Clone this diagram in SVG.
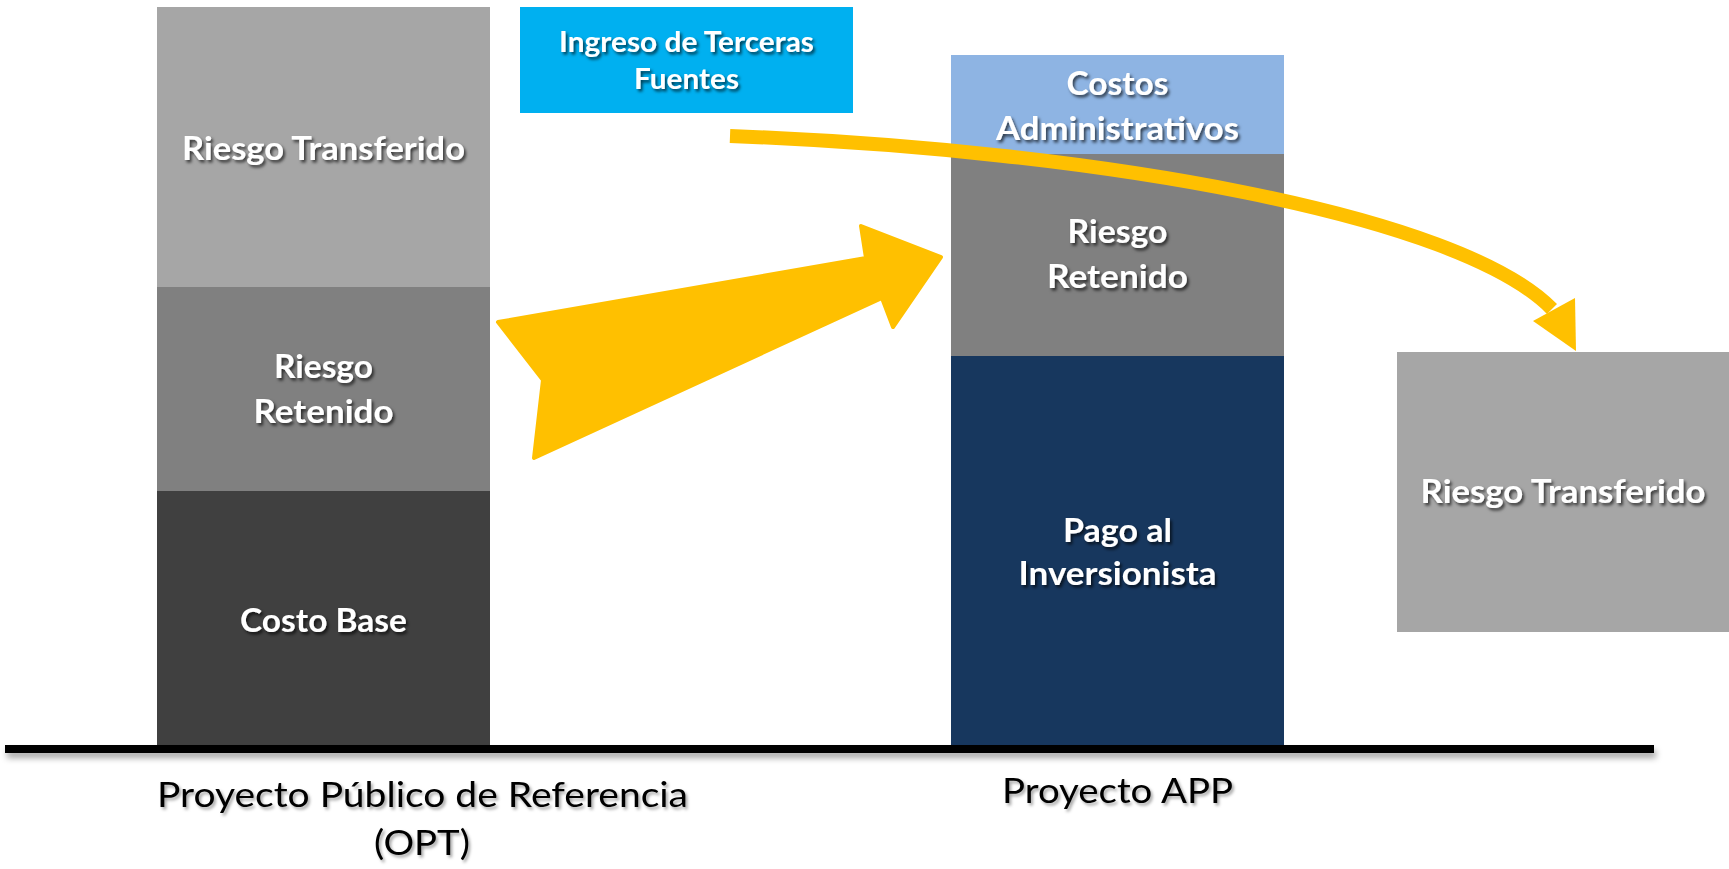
<svg xmlns="http://www.w3.org/2000/svg" width="1729" height="869" viewBox="0 0 1729 869">
<defs>
<filter id="ts" x="-10%" y="-30%" width="130%" height="180%">
<feDropShadow dx="2" dy="2.5" stdDeviation="1.5" flood-color="#000" flood-opacity="0.65"/>
</filter>
<filter id="ts2" x="-10%" y="-30%" width="130%" height="180%">
<feDropShadow dx="2" dy="2.5" stdDeviation="1.5" flood-color="#000" flood-opacity="0.35"/>
</filter>
<filter id="ls" x="-5%" y="-100%" width="110%" height="400%">
<feDropShadow dx="2" dy="5" stdDeviation="3" flood-color="#000" flood-opacity="0.35"/>
</filter>
</defs>
<style>
.lbl{font-family:Lato,"Open Sans","Liberation Sans",sans-serif;font-weight:bold;fill:#fff;text-anchor:middle;filter:url(#ts)}
.s32{font-size:32px}
.s28{font-size:28px}
.axis{font-family:Lato,"Open Sans","Liberation Sans",sans-serif;font-size:35px;fill:#000;text-anchor:middle;filter:url(#ts2)}
.yel{fill:#FFC000}
</style>
<rect width="1729" height="869" fill="#fff"/>

<g id="opt-riesgo-transferido">
<rect x="157" y="7" width="333" height="280" fill="#A6A6A6"/>
<text class="lbl s32" x="323.5" y="160" textLength="283" lengthAdjust="spacingAndGlyphs">Riesgo Transferido</text>
</g>
<g id="opt-riesgo-retenido">
<rect x="157" y="287" width="333" height="204" fill="#808080"/>
<text class="lbl s32" x="323.5" y="378" textLength="99" lengthAdjust="spacingAndGlyphs">Riesgo</text>
<text class="lbl s32" x="323.5" y="423" textLength="140" lengthAdjust="spacingAndGlyphs">Retenido</text>
</g>
<g id="opt-costo-base">
<rect x="157" y="491" width="333" height="255" fill="#404040"/>
<text class="lbl s32" x="323.5" y="632" textLength="167" lengthAdjust="spacingAndGlyphs">Costo Base</text>
</g>

<g id="ingreso-terceras">
<rect x="520" y="7" width="333" height="106" fill="#00B0F0"/>
<text class="lbl s28" x="686.5" y="52" textLength="255" lengthAdjust="spacingAndGlyphs">Ingreso de Terceras</text>
<text class="lbl s28" x="686.5" y="89" textLength="105" lengthAdjust="spacingAndGlyphs">Fuentes</text>
</g>

<g id="app-costos-admin">
<rect x="951" y="55" width="333" height="99" fill="#8EB4E3"/>
<text class="lbl s32" x="1117.5" y="95" textLength="102" lengthAdjust="spacingAndGlyphs">Costos</text>
<text class="lbl s32" x="1117.5" y="140" textLength="243" lengthAdjust="spacingAndGlyphs">Administrativos</text>
</g>
<g id="app-riesgo-retenido">
<rect x="951" y="154" width="333" height="202" fill="#808080"/>
<text class="lbl s32" x="1117.5" y="243" textLength="100" lengthAdjust="spacingAndGlyphs">Riesgo</text>
<text class="lbl s32" x="1117.5" y="288" textLength="141" lengthAdjust="spacingAndGlyphs">Retenido</text>
</g>
<g id="app-pago-inversionista">
<rect x="951" y="356" width="333" height="390" fill="#17375E"/>
<text class="lbl s32" x="1117.5" y="542" textLength="109" lengthAdjust="spacingAndGlyphs">Pago al</text>
<text class="lbl s32" x="1117.5" y="585" textLength="198" lengthAdjust="spacingAndGlyphs">Inversionista</text>
</g>

<g id="riesgo-transferido-right">
<rect x="1397" y="352" width="332" height="280" fill="#A6A6A6"/>
<text class="lbl s32" x="1563" y="503" textLength="285" lengthAdjust="spacingAndGlyphs">Riesgo Transferido</text>
</g>

<g id="axis">
<rect x="5" y="745" width="1649" height="8" fill="#000" filter="url(#ls)"/>
<text class="axis" x="422.5" y="807" textLength="531" lengthAdjust="spacingAndGlyphs">Proyecto Público de Referencia</text>
<text class="axis" x="422" y="855" textLength="96" lengthAdjust="spacingAndGlyphs">(OPT)</text>
<text class="axis" x="1117.5" y="803" textLength="231" lengthAdjust="spacingAndGlyphs">Proyecto APP</text>
</g>

<g id="connectors">
<polygon class="yel" stroke="#FFC000" stroke-width="4" stroke-linejoin="round" points="498,322 866,258 861,226 941,257 893,327 882,298 534,458 543,380"/>
<path d="M730,136 C1100,150 1460,215 1552,309" fill="none" stroke="#FFC000" stroke-width="14"/>
<polygon class="yel" points="1533,321 1575,298 1576,351"/>
</g>
</svg>
